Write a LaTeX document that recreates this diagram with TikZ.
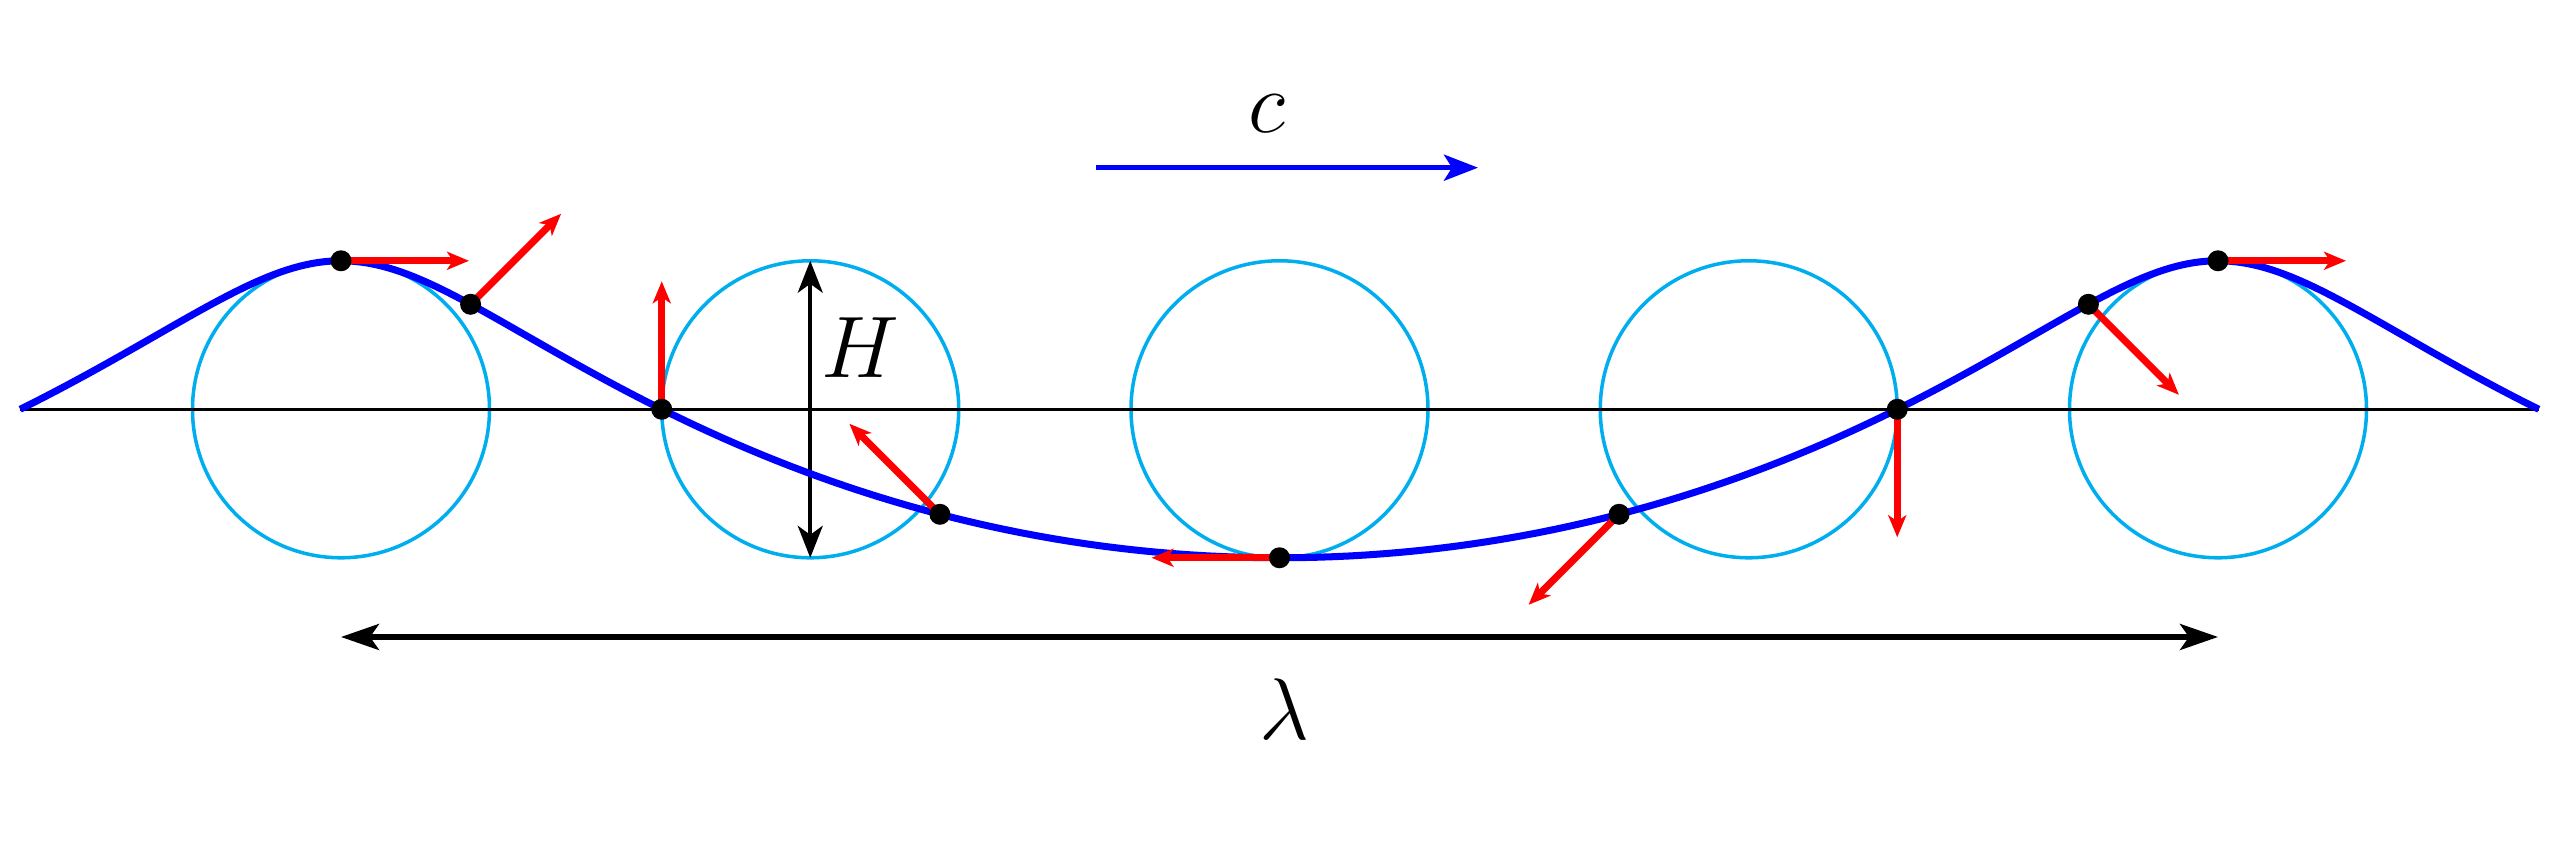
\documentclass[tikz,border=0pt]{standalone}
\usepackage{amsmath}
\usepackage{amssymb}
\usetikzlibrary{arrows.meta}
\definecolor{orbitblue}{RGB}{0,174,239}

\begin{document}
\begin{tikzpicture}[
  orbit/.style={orbitblue, line width=1pt},
  vel/.style={red, line width=2pt, -{Stealth[length=2.2mm,width=1.8mm,inset=0.6mm]}}]
\useasboundingbox (-3.41,-4.317) rectangle (22.19,4.093);
% orbits
\draw[orbit] (0,0) circle (1.485);
\draw[orbit] (4.6925,0) circle (1.485);
\draw[orbit] (9.385,0) circle (1.485);
\draw[orbit] (14.0775,0) circle (1.485);
\draw[orbit] (18.77,0) circle (1.485);
% still water level
\draw[line width=1pt] (-3.2075,0) -- (21.9775,0);
% wave height
\draw[line width=1pt,{Stealth[length=3.2mm,width=2.5mm,inset=0.9mm]}-{Stealth[length=3.2mm,width=2.5mm,inset=0.9mm]}] (4.6925,-1.485) -- (4.6925,1.485);
\node[font=\fontsize{29}{31}\selectfont] (H) at (5.19,0.613) {$H$};
% surface
\draw[blue, line width=2pt] plot[domain=-90:450, samples=241, variable=\t] ({\t/360*18.77-1.485*sin(\t)},{1.485*cos(\t)});
% phase speed
\draw[blue, line width=1.4pt, -{Stealth[length=3.4mm,width=2.6mm,inset=0.8mm]}] (7.55,2.416) -- (11.37,2.416);
\node[font=\fontsize{29}{31}\selectfont] (c) at (9.257,2.953) {$c$};
% wavelength
\draw[line width=1.5pt,{Stealth[length=3.8mm,width=2.6mm,inset=0.9mm]}-{Stealth[length=3.8mm,width=2.6mm,inset=0.9mm]}] (0,-2.277) -- (18.77,-2.277);
\node[font=\fontsize{33}{35}\selectfont] (lam) at (9.435,-3.0) {$\lambda$};
% particle velocities
\draw[vel] (0,1.485) -- (1.28,1.485);
\draw[vel] (1.296,1.05) -- (2.201,1.955);
\draw[vel] (3.2075,0) -- (3.2075,1.28);
\draw[vel] (5.989,-1.05) -- (5.084,-0.145);
\draw[vel] (9.385,-1.485) -- (8.105,-1.485);
\draw[vel] (12.781,-1.05) -- (11.876,-1.955);
\draw[vel] (15.5625,0) -- (15.5625,-1.28);
\draw[vel] (17.474,1.05) -- (18.379,0.145);
\draw[vel] (18.77,1.485) -- (20.05,1.485);
% particles
\fill (0,1.485) circle (0.105);
\fill (1.296,1.05) circle (0.105);
\fill (3.2075,0) circle (0.105);
\fill (5.989,-1.05) circle (0.105);
\fill (9.385,-1.485) circle (0.105);
\fill (12.781,-1.05) circle (0.105);
\fill (15.5625,0) circle (0.105);
\fill (17.474,1.05) circle (0.105);
\fill (18.77,1.485) circle (0.105);
\end{tikzpicture}
\end{document}
